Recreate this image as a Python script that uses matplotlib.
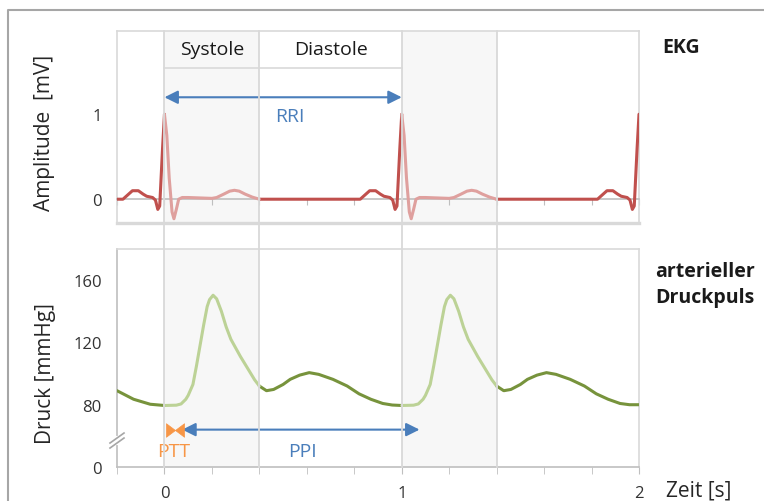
import numpy as np
import matplotlib
matplotlib.use('Agg')
import matplotlib.pyplot as plt
from matplotlib.lines import Line2D
from matplotlib.path import Path
from matplotlib.transforms import blended_transform_factory

plt.rcParams['font.family'] = ['Open Sans', 'DejaVu Sans']

# ---------------- data ----------------
ekg_t = [-0.20, -0.175, -0.155, -0.135, -0.11, -0.09, -0.075, -0.05, -0.038, -0.028,
         -0.02, -0.008, 0.0, 0.01, 0.02, 0.032, 0.04, 0.05, 0.06, 0.075,
         0.10, 0.15, 0.20, 0.22, 0.25, 0.275, 0.295, 0.315, 0.34, 0.37,
         0.40, 0.50, 0.60, 0.70, 0.80, 0.825, 0.845, 0.865, 0.89, 0.91,
         0.925, 0.95, 0.962, 0.972, 0.98, 0.992, 1.0, 1.01, 1.02, 1.032,
         1.04, 1.05, 1.06, 1.075, 1.10, 1.15, 1.20, 1.22, 1.25, 1.275,
         1.295, 1.315, 1.34, 1.37, 1.40, 1.50, 1.60, 1.70, 1.80, 1.825,
         1.845, 1.865, 1.89, 1.91, 1.925, 1.95, 1.962, 1.972, 1.98, 1.992, 2.0]
ekg_mv = [0.0, 0.0, 0.05, 0.10, 0.10, 0.06, 0.035, 0.02, -0.01, -0.12,
          -0.08, 0.6, 1.0, 0.75, 0.25, -0.15, -0.23, -0.12, 0.0, 0.02,
          0.02, 0.015, 0.01, 0.02, 0.06, 0.095, 0.105, 0.095, 0.06, 0.025,
          0.0, 0.0, 0.0, 0.0, 0.0, 0.0, 0.05, 0.10, 0.10, 0.06,
          0.035, 0.02, -0.01, -0.12, -0.08, 0.6, 1.0, 0.75, 0.25, -0.15,
          -0.23, -0.12, 0.0, 0.02, 0.02, 0.015, 0.01, 0.02, 0.06, 0.095,
          0.105, 0.095, 0.06, 0.025, 0.0, 0.0, 0.0, 0.0, 0.0, 0.0,
          0.05, 0.10, 0.10, 0.06, 0.035, 0.02, -0.01, -0.12, -0.08, 0.6, 1.0]

druck_t = [-0.20, -0.13, -0.06, 0.0, 0.05, 0.07, 0.09, 0.10, 0.12, 0.135,
           0.15, 0.165, 0.18, 0.19, 0.205, 0.22, 0.24, 0.26, 0.28, 0.30,
           0.32, 0.34, 0.36, 0.38, 0.40, 0.43, 0.46, 0.50, 0.53, 0.57,
           0.61, 0.65, 0.71, 0.77, 0.82, 0.87, 0.92, 0.96, 1.0, 1.05,
           1.07, 1.09, 1.10, 1.12, 1.135, 1.15, 1.165, 1.18, 1.19, 1.205,
           1.22, 1.24, 1.26, 1.28, 1.30, 1.32, 1.34, 1.36, 1.38, 1.40,
           1.43, 1.46, 1.50, 1.53, 1.57, 1.61, 1.65, 1.71, 1.77, 1.82,
           1.87, 1.92, 1.96, 2.0]
druck_mmhg = [89.0, 83.5, 80.3, 79.5, 79.7, 80.5, 83.5, 86.0, 93.0, 105.0,
              118.0, 131.0, 143.0, 147.5, 150.3, 148.0, 140.0, 130.0, 122.0, 116.5,
              111.0, 106.0, 101.0, 96.0, 92.0, 89.0, 89.8, 93.0, 96.3, 99.0,
              100.6, 99.5, 96.3, 92.0, 87.0, 83.5, 80.8, 79.8, 79.5, 79.7,
              80.5, 83.5, 86.0, 93.0, 105.0, 118.0, 131.0, 143.0, 147.5, 150.3,
              148.0, 140.0, 130.0, 122.0, 116.5, 111.0, 106.0, 101.0, 96.0, 92.0,
              89.0, 89.8, 93.0, 96.3, 99.0, 100.6, 99.5, 96.3, 92.0, 87.0,
              83.5, 80.8, 80.0, 80.0]

phase_bounds = [0.0, 0.4, 1.0, 1.4]
systole_windows = [(0.0, 0.4), (1.0, 1.4)]
phase_names = ['Systole', 'Diastole']
phase_spans = [(0.0, 0.4), (0.4, 1.0)]

x_ticks = [0, 1, 2]
x_tick_labels = ['0', '1', '2']
x_minor = [-0.2, 0.0, 0.2, 0.4, 0.6, 0.8, 1.0, 1.2, 1.4, 1.6, 1.8, 2.0]
ekg_yticks = [0, 1]
ekg_ytick_labels = ['0', '1']
druck_yticks = [40, 80, 120, 160]
druck_ytick_labels = ['0', '80', '120', '160']

rri_span = (0.0, 1.0)
ppi_span = (0.075, 1.075)
ptt_span = (0.014, 0.075)

# ---------------- style ----------------
W, H = 764, 502
EKG_DARK, EKG_LIGHT = '#c0504d', '#dfa09e'
P_DARK, P_LIGHT = '#77933c', '#bcd296'
BLUE, ORANGE = '#4a7ebb', '#f79646'
GRID, FRAME, AXIS = '#d9d9d9', '#d9d9d9', '#bfbfbf'
SHADE = '#f7f7f7'
TXT = '#262626'

fig = plt.figure(figsize=(W / 100, H / 100), dpi=100)
fig.patch.set_facecolor('white')


def rect(l, t, r, b):
    return [l / W, 1 - b / H, (r - l) / W, (b - t) / H]


def px(x, y):
    return x / W, 1 - y / H


ax1 = fig.add_axes(rect(117, 32, 639, 224))
ax2 = fig.add_axes(rect(117, 250, 639, 468))


def split(t, v, windows):
    t = np.asarray(t, float)
    v = np.asarray(v, float)
    inside = np.zeros(len(t), bool)
    strict = np.zeros(len(t), bool)
    for a, b in windows:
        inside |= (t >= a - 1e-9) & (t <= b + 1e-9)
        strict |= (t > a + 1e-9) & (t < b - 1e-9)
    return t, np.where(strict, np.nan, v), np.where(inside, v, np.nan)


for ax in (ax1, ax2):
    ax.set_xlim(-0.2, 2.0)
    ax.set_facecolor('white')
    for a, b in systole_windows:
        ax.axvspan(a, b, color=SHADE, zorder=0, lw=0)
    ax.tick_params(axis='y', length=0, labelsize=12, labelcolor='#333333', pad=11)

# ---- EKG panel ----
ax1.set_ylim(-0.28, 1.98)
t, d, l = split(ekg_t, ekg_mv, systole_windows)
ax1.plot(t, d, color=EKG_DARK, lw=2.2, solid_capstyle='round', solid_joinstyle='round', zorder=4)
ax1.plot(t, l, color=EKG_LIGHT, lw=2.2, solid_capstyle='round', solid_joinstyle='round', zorder=4)
ax1.set_yticks(ekg_yticks)
ax1.set_yticklabels(ekg_ytick_labels)
for s in ['top', 'right', 'left']:
    ax1.spines[s].set_color(FRAME)
    ax1.spines[s].set_linewidth(1.2)
ax1.spines['bottom'].set_position(('data', 0))
ax1.spines['bottom'].set_color(AXIS)
ax1.spines['bottom'].set_linewidth(1.2)
ax1.set_xticks(x_minor)
ax1.tick_params(axis='x', direction='out', length=4, color=AXIS, labelbottom=False)
ax1.axhline(-0.28, color=FRAME, lw=2.4, zorder=1, clip_on=False)

# header boxes
hdr_y = 1.55
ax1.plot([phase_spans[0][0], phase_spans[1][1]], [hdr_y, hdr_y], color=FRAME, lw=1.2, zorder=2)
for name, (a, b) in zip(phase_names, phase_spans):
    ax1.text((a + b) / 2, 1.765, name, ha='center', va='center', fontsize=14, color='#1a1a1a')

# RRI arrow
ax1.annotate('', xy=(rri_span[1], 1.2), xytext=(rri_span[0], 1.2),
             arrowprops=dict(arrowstyle='<|-|>', color=BLUE, lw=1.5, mutation_scale=20,
                             shrinkA=0, shrinkB=0), zorder=5)
ax1.text(0.53, 0.98, 'RRI', ha='center', va='center', fontsize=14, color=BLUE)

# ---- Pressure panel ----
ax2.set_ylim(40, 180)
t, d, l = split(druck_t, druck_mmhg, systole_windows)
ax2.plot(t, d, color=P_DARK, lw=2.2, solid_capstyle='round', solid_joinstyle='round', zorder=4)
ax2.plot(t, l, color=P_LIGHT, lw=2.2, solid_capstyle='round', solid_joinstyle='round', zorder=4)
ax2.set_yticks(druck_yticks)
ax2.set_yticklabels(druck_ytick_labels)
ax2.set_xticks(x_ticks)
ax2.set_xticklabels(x_tick_labels)
ax2.set_xticks(x_minor, minor=True)
ax2.tick_params(axis='x', which='both', direction='out', length=5, color=AXIS,
                labelsize=12, labelcolor='#333333', pad=8)
for s in ['top', 'right']:
    ax2.spines[s].set_color(FRAME)
    ax2.spines[s].set_linewidth(1.2)
for s in ['left', 'bottom']:
    ax2.spines[s].set_color(AXIS)
    ax2.spines[s].set_linewidth(1.2)

# axis break marks
by = (57 - 40) / 140
dx, dy, off = 7 / 522, 5 / 218, 2.5 / 218
ax2.plot([0, 0], [by - off, by + off], transform=ax2.transAxes, color='white', lw=3,
         clip_on=False, zorder=6)
for o in (-off, off):
    ax2.plot([-dx, dx], [by + o - dy, by + o + dy], transform=ax2.transAxes,
             color='#a6a6a6', lw=1.2, clip_on=False, zorder=7)

# PPI / PTT arrows
ay = 64
ax2.annotate('', xy=(ppi_span[1], ay), xytext=(ppi_span[0], ay),
             arrowprops=dict(arrowstyle='<|-|>', color=BLUE, lw=1.5, mutation_scale=20,
                             shrinkA=0, shrinkB=0), zorder=5)
mid = (ptt_span[0] + ptt_span[1]) / 2
tri_right = Path([(-1, -0.75), (0, 0), (-1, 0.75), (-1, -0.75)],
                 [Path.MOVETO, Path.LINETO, Path.LINETO, Path.CLOSEPOLY])
tri_left = Path([(1, -0.75), (0, 0), (1, 0.75), (1, -0.75)],
                [Path.MOVETO, Path.LINETO, Path.LINETO, Path.CLOSEPOLY])
for m in (tri_right, tri_left):
    ax2.plot([mid], [ay], marker=m, ms=13, color=ORANGE, mec=ORANGE, mew=0.5,
             linestyle='none', zorder=6)
ax2.text(0.038, 50.5, 'PTT', ha='center', va='center', fontsize=14, color=ORANGE)
ax2.text(0.58, 50.5, 'PPI', ha='center', va='center', fontsize=14, color=BLUE)

# vertical phase lines across both panels
trans = blended_transform_factory(ax2.transData, fig.transFigure)
for x in phase_bounds:
    fig.add_artist(Line2D([x, x], [1 - 468 / H, 1 - 32 / H], transform=trans,
                          color=GRID, lw=1.3, zorder=3))

# labels
fig.text(*px(45, 133), 'Amplitude  [mV]', rotation=90, ha='center', va='center',
         fontsize=15, color=TXT)
fig.text(*px(45, 374), 'Druck [mmHg]', rotation=90, ha='center', va='center',
         fontsize=15, color=TXT)
fig.text(*px(662, 48), 'EKG', ha='left', va='center', fontsize=14, fontweight='bold', color='#1a1a1a')
fig.text(*px(655, 285), 'arterieller\nDruckpuls', ha='left', va='center', fontsize=14,
         fontweight='bold', color='#1a1a1a', linespacing=1.35)
fig.text(*px(666, 491), 'Zeit [s]', ha='left', va='center', fontsize=15, color=TXT)

# outer frame (partially visible)
fig.add_artist(Line2D([8 / W, 8 / W, 1.0], [0.0, 1 - 10.5 / H, 1 - 10.5 / H],
                      transform=fig.transFigure, color='#a6a6a6', lw=1.5))

fig.savefig('out.png', dpi=100, facecolor='white')
